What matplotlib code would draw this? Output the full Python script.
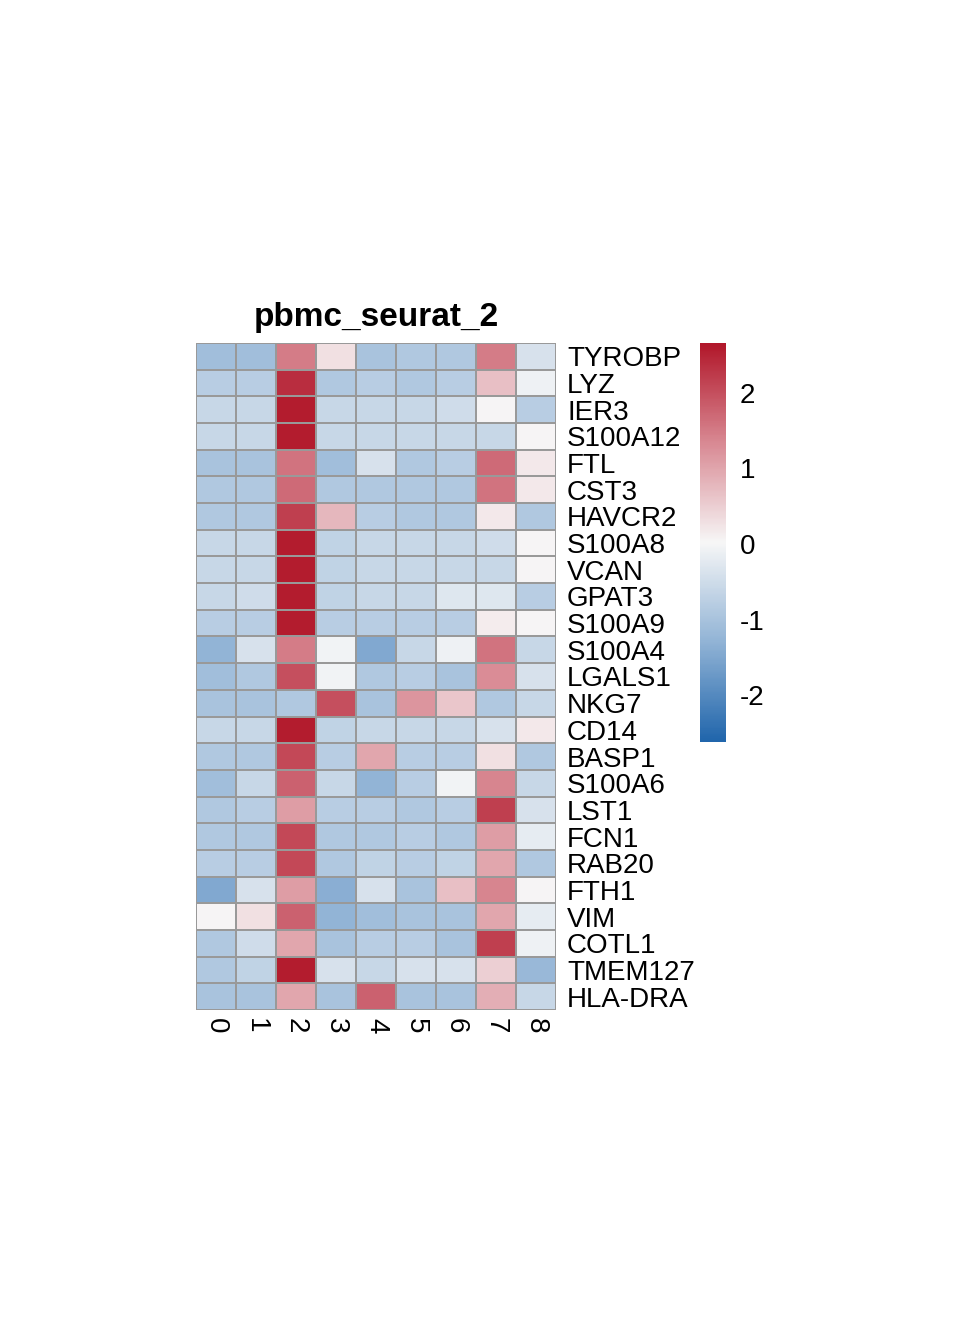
import numpy as np
import matplotlib
matplotlib.use("Agg")
import matplotlib.pyplot as plt
from matplotlib.colors import LinearSegmentedColormap

plt.rcParams["font.family"] = ["Liberation Sans", "DejaVu Sans"]

genes = ["TYROBP", "LYZ", "IER3", "S100A12", "FTL", "CST3", "HAVCR2", "S100A8",
         "VCAN", "GPAT3", "S100A9", "S100A4", "LGALS1", "NKG7", "CD14", "BASP1",
         "S100A6", "LST1", "FCN1", "RAB20", "FTH1", "VIM", "COTL1", "TMEM127", "HLA-DRA"]
clusters = ["0", "1", "2", "3", "4", "5", "6", "7", "8"]

values = [
    [-1.1, -1.1, 1.5, 0.3, -1.0, -0.9, -0.9, 1.5, -0.4],
    [-0.8, -0.8, 2.4, -0.9, -0.8, -0.9, -0.8, 0.7, -0.1],
    [-0.6, -0.6, 2.6, -0.6, -0.6, -0.6, -0.5, 0.05, -0.8],
    [-0.6, -0.6, 2.6, -0.6, -0.6, -0.6, -0.6, -0.6, 0.05],
    [-1.0, -1.0, 1.6, -1.1, -0.4, -0.9, -0.8, 1.7, 0.2],
    [-0.9, -0.9, 1.7, -0.9, -0.9, -0.9, -0.9, 1.6, 0.2],
    [-0.9, -0.9, 2.2, 0.8, -0.8, -0.9, -0.9, 0.2, -0.9],
    [-0.6, -0.6, 2.6, -0.7, -0.6, -0.6, -0.6, -0.5, 0.05],
    [-0.6, -0.6, 2.6, -0.7, -0.6, -0.6, -0.6, -0.6, 0.05],
    [-0.6, -0.5, 2.6, -0.7, -0.6, -0.6, -0.3, -0.3, -0.8],
    [-0.8, -0.8, 2.6, -0.8, -0.8, -0.8, -0.8, 0.15, 0.05],
    [-1.3, -0.4, 1.5, -0.05, -1.5, -0.6, -0.1, 1.6, -0.6],
    [-1.1, -0.9, 2.0, -0.05, -0.9, -0.8, -1.0, 1.3, -0.4],
    [-1.0, -1.0, -0.9, 2.0, -1.0, 1.2, 0.6, -0.9, -0.6],
    [-0.6, -0.6, 2.6, -0.7, -0.6, -0.6, -0.6, -0.4, 0.2],
    [-0.9, -0.9, 2.1, -0.8, 1.0, -0.8, -0.8, 0.3, -0.9],
    [-1.1, -0.6, 1.8, -0.6, -1.3, -0.8, -0.05, 1.4, -0.6],
    [-0.9, -0.8, 1.1, -0.8, -0.8, -0.9, -0.8, 2.2, -0.4],
    [-0.9, -0.9, 2.1, -0.9, -0.9, -0.8, -0.9, 1.1, -0.2],
    [-0.8, -0.8, 2.1, -0.9, -0.7, -0.8, -0.7, 1.0, -0.9],
    [-1.5, -0.4, 1.1, -1.4, -0.4, -1.0, 0.7, 1.4, 0.05],
    [0.05, 0.3, 1.8, -1.3, -1.1, -1.0, -1.0, 1.0, -0.2],
    [-0.9, -0.5, 1.0, -1.0, -0.8, -0.8, -1.0, 2.2, -0.1],
    [-0.9, -0.7, 2.6, -0.4, -0.6, -0.4, -0.4, 0.5, -1.2],
    [-1.0, -1.0, 1.0, -1.0, 1.8, -1.0, -1.0, 0.9, -0.6],
]

W, H = 960, 1344
fig = plt.figure(figsize=(W / 100, H / 100), dpi=100)

def px_axes(x0, y0, x1, y1):
    return fig.add_axes([x0 / W, 1 - y1 / H, (x1 - x0) / W, (y1 - y0) / H])

cmap = LinearSegmentedColormap.from_list(
    "rb", ["#2166AC", "#92B4D6", "#F7F7F7", "#D98A94", "#B2182B"])
vmin, vmax = -2.62, 2.66
data = np.array(values)

ax = px_axes(196, 343, 556, 1010)
ax.pcolormesh(data, cmap=cmap, vmin=vmin, vmax=vmax, edgecolor="#999999", linewidth=1.2)
ax.set_xlim(0, len(clusters))
ax.set_ylim(len(genes), 0)
for s in ax.spines.values():
    s.set_visible(False)
ax.tick_params(length=0, pad=6)
ax.set_xticks(np.arange(len(clusters)) + 0.5)
ax.set_xticklabels(clusters, rotation=-90, fontsize=20, va="top")
ax.yaxis.tick_right()
ax.set_yticks(np.arange(len(genes)) + 0.5)
ax.set_yticklabels(genes, fontsize=20)
ax.tick_params(axis="y", pad=8)
ax.set_title("pbmc_seurat_2", fontsize=24, fontweight="bold", pad=12)

cax = px_axes(700, 343, 726, 742)
grad = np.linspace(vmax, vmin, 200).reshape(-1, 1)
cax.imshow(grad, aspect="auto", cmap=cmap, vmin=vmin, vmax=vmax,
           extent=[0, 1, vmin, vmax])
cax.set_xticks([])
cax.yaxis.tick_right()
cax.set_yticks([-2, -1, 0, 1, 2])
cax.set_yticklabels(["-2", "-1", "0", "1", "2"], fontsize=20)
cax.tick_params(length=0, pad=10)
for s in cax.spines.values():
    s.set_visible(False)

fig.savefig("out.png", dpi=100)
